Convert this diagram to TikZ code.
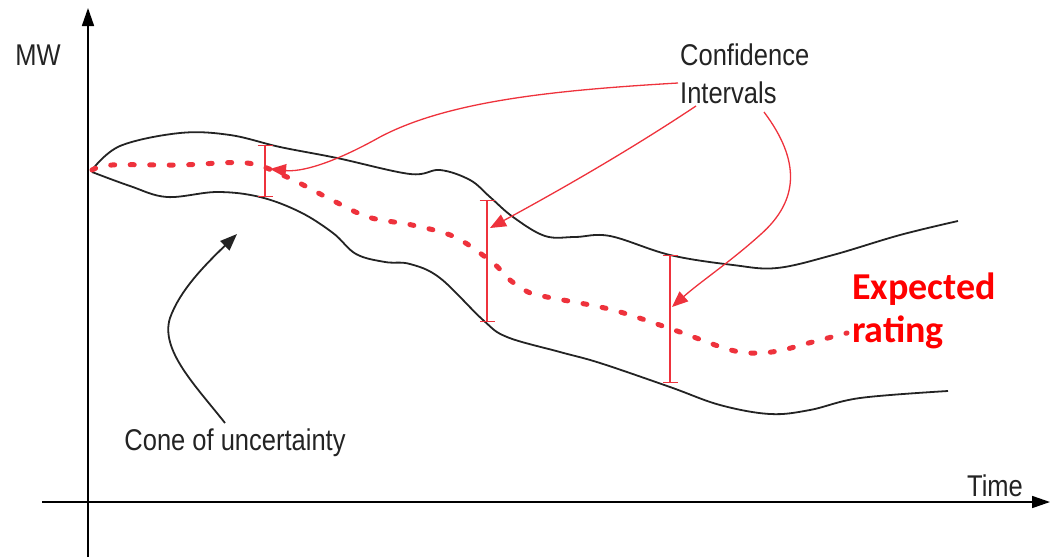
\documentclass[tikz,border=0pt]{standalone}
\usepackage{fontspec}
\setmainfont{Liberation Sans}
\newfontfamily\narrowsans[FakeStretch=0.85]{Liberation Sans}
\newfontfamily\calib{Carlito}
\usetikzlibrary{arrows.meta}
\definecolor{ink}{RGB}{35,35,35}
\definecolor{cired}{RGB}{238,50,60}
\definecolor{exred}{RGB}{255,0,0}
\begin{document}
\begin{tikzpicture}[x=1pt,y=-1pt,
  axis/.style={line width=1.6pt,black,-{Triangle[length=18pt,width=12pt]}},
  band/.style={line width=1.8pt,ink},
  meanline/.style={line width=5pt,cired,line cap=round,dash pattern=on 4pt off 15.5pt},
  errbar/.style={line width=1.3pt,cired,{Bar[width=15pt]}-{Bar[width=15pt]}},
  pointer/.style={line width=1.3pt,cired,-{Triangle[length=16pt,width=13pt]}},
  conepointer/.style={line width=1.8pt,ink,-{Triangle[length=17pt,width=13pt]}},
  lbl/.style={font=\narrowsans\fontsize{30}{38}\selectfont,text=ink,inner sep=0pt}]
\useasboundingbox (0,0) rectangle (1051,557);

% axes
\coordinate (ybot) at (88,557);
\coordinate (ytop) at (88,8);
\coordinate (xleft) at (42,502);
\coordinate (xright) at (1050,502);
\draw[axis] (ybot) -- (ytop);
\draw[axis] (xleft) -- (xright);
\node[lbl] (mw) at (38,55) {MW};
\node[lbl] (time) at (995,486) {Time};

% cone of uncertainty
\draw[band] plot[smooth,tension=0.6] coordinates {
  (92,170) (120,146) (180,133) (230,135) (280,147) (337,158)
  (410,174) (440,170) (470,180) (490,197) (513,217) (545,236)
  (575,237) (610,236) (670,255) (733,265) (777,268)
  (833,255) (900,235) (958,221)};
\draw[band] plot[smooth,tension=0.6] coordinates {
  (92,172) (130,186) (167,197) (217,192) (260,197) (300,212) (333,233)
  (356,254) (385,262) (410,264) (440,278) (483,320) (507,337) (560,352)
  (600,363) (670,387) (720,405) (770,414) (810,410) (860,398) (948,391)};

% expected rating
\draw[meanline] plot[smooth,tension=0.55] coordinates {
  (92,170) (112,165) (180,165) (247,163) (287,177) (328,198) (368,217)
  (412,225) (455,237) (493,263) (510,280) (528,292) (547,297) (613,310)
  (677,331) (718,346) (740,352) (762,353) (783,350) (805,344) (847,333)};
\node[font=\calib\bfseries\fontsize{38}{43}\selectfont,text=exred,align=left,
  anchor=west,inner sep=0pt] (exp) at (852,311) {Expected\\rating};

% confidence intervals
\coordinate (b1t) at (265,145); \coordinate (b1b) at (265,197);
\coordinate (b2t) at (487,200); \coordinate (b2b) at (487,322);
\coordinate (b3t) at (670,255); \coordinate (b3b) at (670,383);
\draw[errbar] (b1t) -- (b1b);
\draw[errbar] (b2t) -- (b2b);
\draw[errbar] (b3t) -- (b3b);

\node[lbl,align=left,anchor=north west] (conf) at (680,44) {Confidence\\Intervals};
\coordinate (s1) at (678,83);
\coordinate (s2) at (696,106);
\coordinate (s3) at (764,112);
\coordinate (t1) at (270,169);
\coordinate (t2) at (490,228);
\coordinate (t3) at (672,307);
\draw[pointer] (s1) .. controls (560,90) and (450,100) .. (380,137)
  .. controls (330,165) and (300,172) .. (t1);
\draw[pointer] (s2) .. controls (630,150) and (560,190) .. (t2);
\draw[pointer] (s3) .. controls (800,160) and (800,200) .. (760,235)
  .. controls (730,262) and (700,282) .. (t3);

% cone label
\node[lbl] (cone) at (235,443) {Cone of uncertainty};
\coordinate (ct) at (237,234);
\draw[conepointer] (225,423) .. controls (195,385) and (160,350) .. (170,318)
  .. controls (180,290) and (205,265) .. (ct);
\end{tikzpicture}
\end{document}
